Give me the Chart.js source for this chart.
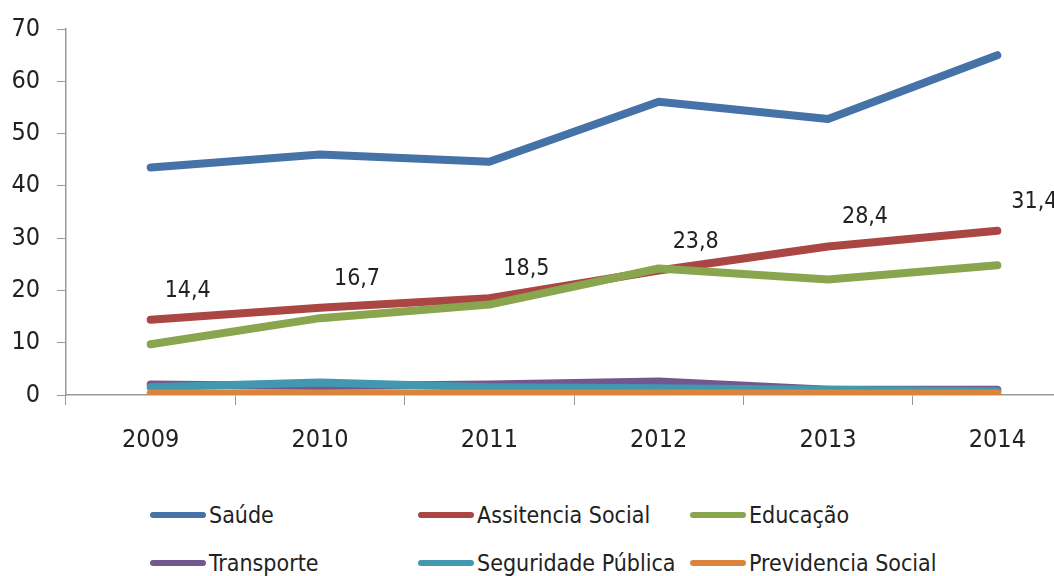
<!DOCTYPE html>
<html>
<head>
<meta charset="utf-8">
<script src="https://cdn.jsdelivr.net/npm/chart.js@4/dist/chart.umd.min.js"></script>
<style>
  html, body { margin: 0; padding: 0; background: #fff; overflow: hidden; }
  #wrap { position: relative; width: 1054px; height: 576px; overflow: hidden; }
  #chart { position: absolute; left: 0; top: -3px; }
  .leg { position: absolute; display: flex; align-items: center; font-family: "Liberation Sans Narrow", "DejaVu Sans Condensed", sans-serif; font-size: 23px; color: #222; white-space: nowrap; }
  .leg i { display: inline-block; width: 56px; height: 6px; border-radius: 3px; margin-right: 3px; }
</style>
</head>
<body>
<div id="wrap">
  <canvas id="chart" width="1082" height="460"></canvas>
  <div id="legend"></div>
</div>
<script>
const years = ['2009', '2010', '2011', '2012', '2013', '2014'];

const saude       = [43.5, 46.0, 44.6, 56.1, 52.8, 65.0];
const assistencia = [14.4, 16.7, 18.5, 23.8, 28.4, 31.4];
const educacao    = [9.7, 14.7, 17.3, 24.2, 22.1, 24.8];
const transporte  = [2.0, 1.7, 2.0, 2.6, 1.0, 1.0];
const seguridade  = [1.5, 2.4, 1.5, 1.3, 1.0, 0.7];
const previdencia = [0.3, 0.3, 0.3, 0.3, 0.3, 0.3];

const yTicks = [0, 10, 20, 30, 40, 50, 60, 70];

const series = [
    { label: 'Saúde', data: saude, color: '#4572A7' },
    { label: 'Assitencia Social', data: assistencia, color: '#AA4643' },
    { label: 'Educação', data: educacao, color: '#89A54E' },
    { label: 'Transporte', data: transporte, color: '#71588F' },
    { label: 'Seguridade Pública', data: seguridade, color: '#4198AF' },
    { label: 'Previdencia Social', data: previdencia, color: '#DB843D' }
];

// value labels only on the Assitencia Social line
const labelPlugin = {
    id: 'valueLabels',
    afterDatasetsDraw(chart) {
        const ctx = chart.ctx;
        const meta = chart.getDatasetMeta(1);
        ctx.save();
        ctx.font = '23px "Liberation Sans Narrow", "DejaVu Sans Condensed", sans-serif';
        ctx.fillStyle = '#222';
        ctx.textAlign = 'center';
        ctx.textBaseline = 'middle';
        meta.data.forEach((pt, i) => {
            ctx.fillText(assistencia[i].toFixed(1).replace('.', ','), pt.x + 37, pt.y - 29);
        });
        ctx.restore();
    }
};

const tickFont = { family: '"Liberation Sans Narrow", "DejaVu Sans Condensed", sans-serif', size: 25 };

new Chart(document.getElementById('chart'), {
    type: 'line',
    data: {
        labels: years,
        datasets: series.map((s, i) => ({
            label: s.label,
            data: s.data,
            borderColor: s.color,
            backgroundColor: s.color,
            borderWidth: 8,
            pointRadius: 0,
            tension: 0,
            borderCapStyle: 'round',
            borderJoinStyle: 'round',
            order: series.length - i
        }))
    },
    options: {
        responsive: false,
        animation: false,
        layout: { padding: { top: 25, left: 0, right: 0, bottom: 0 } },
        plugins: {
            legend: { display: false },
            tooltip: { enabled: false }
        },
        scales: {
            x: {
                offset: true,
                grid: { offset: true, drawOnChartArea: false, drawTicks: true, tickLength: 10, color: '#999' },
                border: { color: '#999', width: 1.5 },
                ticks: { font: tickFont, color: '#222', padding: 20 },
                afterFit(scale) { scale.height = 62; }
            },
            y: {
                min: 0,
                max: 70,
                afterBuildTicks(scale) { scale.ticks = yTicks.map(v => ({ value: v })); },
                grid: { drawOnChartArea: false, drawTicks: true, tickLength: 9, color: '#999' },
                border: { color: '#999', width: 1.5 },
                ticks: { font: tickFont, color: '#222', padding: 17 },
                afterFit(scale) { scale.width = 66; }
            }
        }
    },
    plugins: [labelPlugin]
});

// legend laid out in a 3-column grid like the original
const legendPos = [[150, 515], [418, 515], [690, 515], [150, 563], [418, 563], [690, 563]];
const legend = document.getElementById('legend');
series.forEach((s, i) => {
    const d = document.createElement('div');
    d.className = 'leg';
    d.style.left = legendPos[i][0] + 'px';
    d.style.top = (legendPos[i][1] - 13) + 'px';
    d.innerHTML = '<i style="background:' + s.color + '"></i>' + s.label;
    legend.appendChild(d);
});
</script>
</body>
</html>
